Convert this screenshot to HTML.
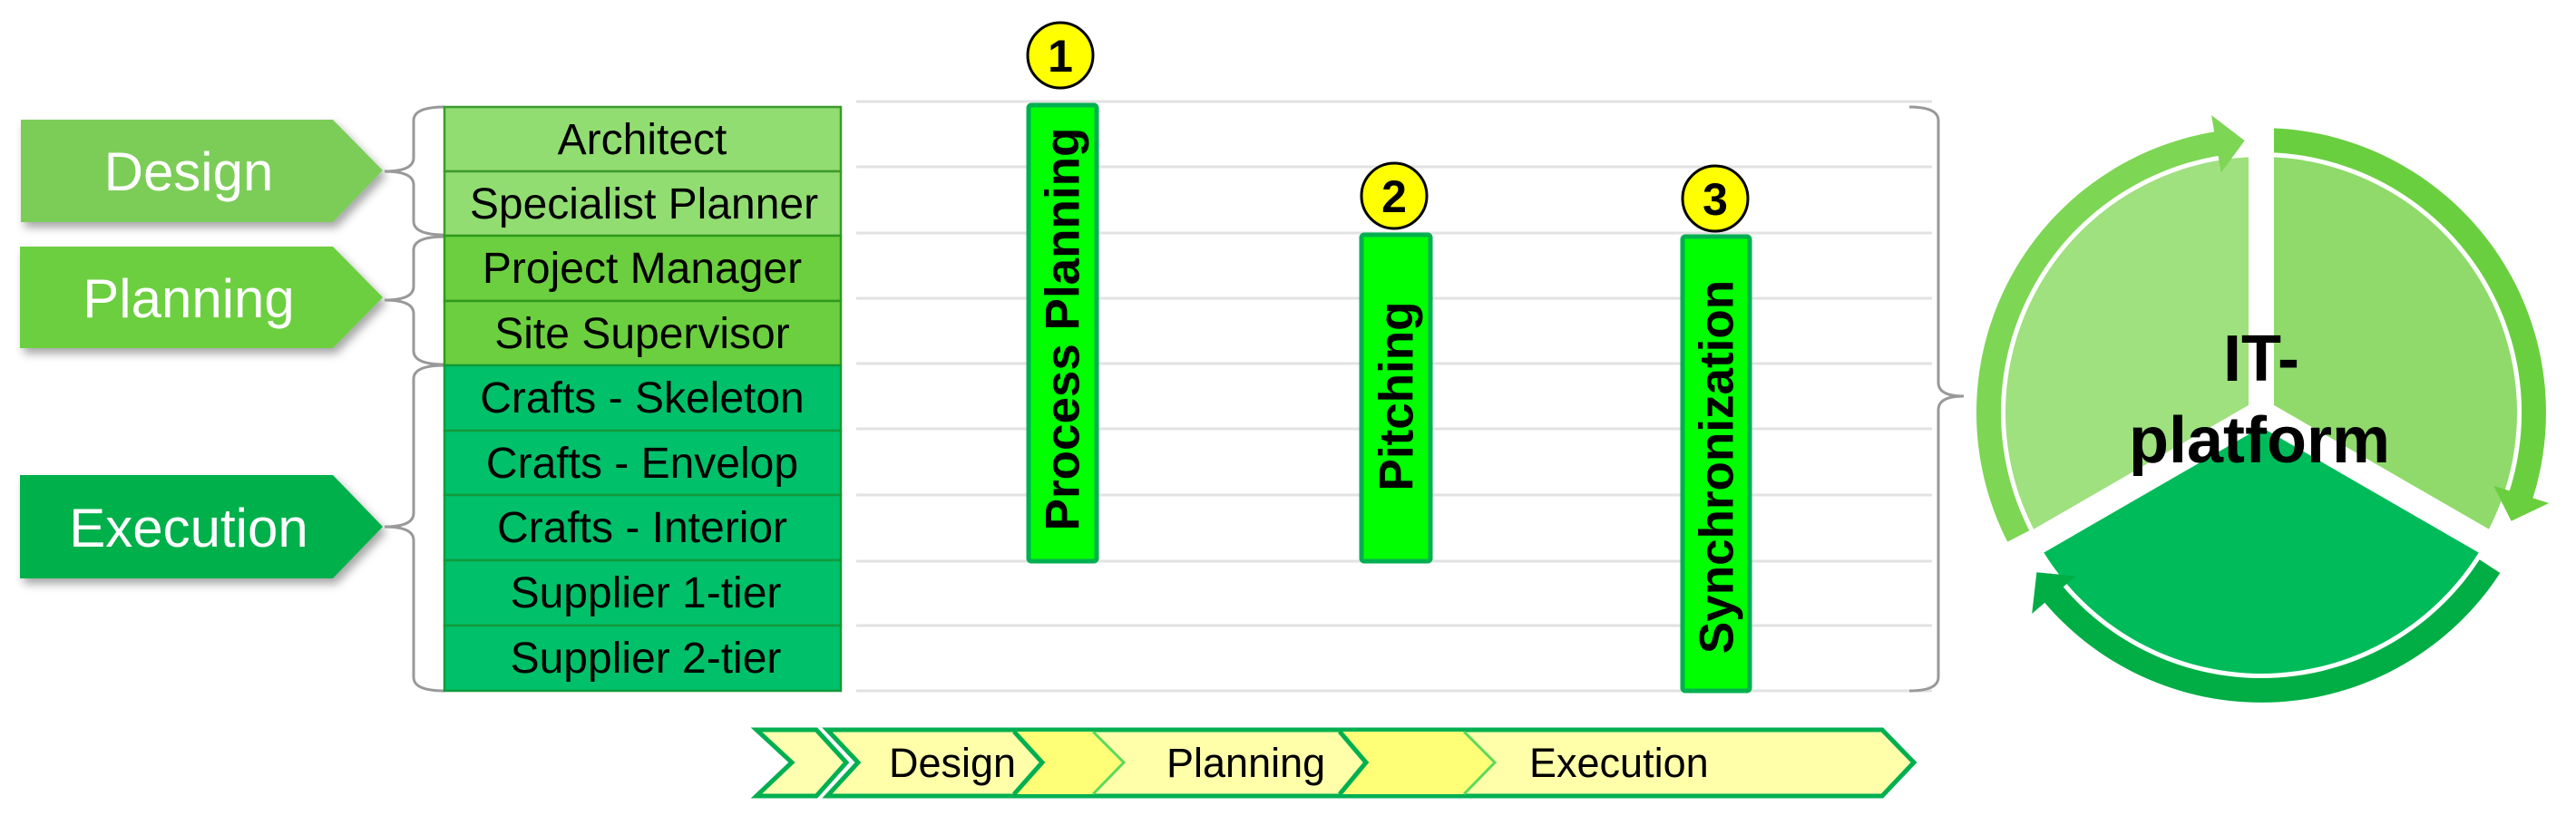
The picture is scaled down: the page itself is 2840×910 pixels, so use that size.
<!DOCTYPE html>
<html><head><meta charset="utf-8"><style>
html,body{margin:0;padding:0;background:#fff;}
svg{display:block;}
text{font-family:"Liberation Sans",Arial,sans-serif;}
</style></head><body>
<svg id="s" width="2840" height="910" viewBox="0 0 2840 910" xmlns="http://www.w3.org/2000/svg">
<defs>
<filter id="sh" x="-10%" y="-10%" width="130%" height="140%"><feDropShadow dx="4" dy="6" stdDeviation="5" flood-color="#000" flood-opacity="0.35"/></filter>
</defs>
<g stroke="#e2e2e2" stroke-width="3">
<line x1="944" y1="112" x2="2130" y2="112"/>
<line x1="944" y1="184" x2="2130" y2="184"/>
<line x1="944" y1="257" x2="2130" y2="257"/>
<line x1="944" y1="329" x2="2130" y2="329"/>
<line x1="944" y1="401" x2="2130" y2="401"/>
<line x1="944" y1="473" x2="2130" y2="473"/>
<line x1="944" y1="546" x2="2130" y2="546"/>
<line x1="944" y1="619" x2="2130" y2="619"/>
<line x1="944" y1="690" x2="2130" y2="690"/>
<line x1="944" y1="762" x2="2130" y2="762"/>
</g>
<g filter="url(#sh)">
<polygon points="23,132 367,132 422,188 367,245 23,245" fill="#7bcd58"/>
<polygon points="22,272 367,272 422,328 367,384 22,384" fill="#6ccf3f"/>
<polygon points="22,524 367,524 422,581 367,638 22,638" fill="#00b04c"/>
</g>
<g fill="#fff" font-size="60" text-anchor="middle">
<text x="208" y="210">Design</text>
<text x="208" y="350">Planning</text>
<text x="208" y="603">Execution</text>
</g>
<g fill="none" stroke="#999" stroke-width="3">
<path d="M490 118 Q456 118 456 133 L456 174 Q456 189 424 189 Q456 189 456 204 L456 244 Q456 259 490 259"/>
<path d="M490 261 Q456 261 456 276 L456 316 Q456 331 424 331 Q456 331 456 346 L456 387 Q456 402 490 402"/>
<path d="M490 403 Q456 403 456 418 L456 566 Q456 581 424 581 Q456 581 456 596 L456 747 Q456 762 490 762"/>
<path d="M2105 118 Q2137 118 2137 133 L2137 422 Q2137 437 2165 437 Q2137 437 2137 452 L2137 747 Q2137 762 2105 762"/>
</g>
<g stroke="#3c9a2c" stroke-width="2.5">
<rect x="490" y="118" width="437" height="71" fill="#92dd72"/>
<rect x="490" y="189" width="437" height="71" fill="#92dd72"/>
<rect x="490" y="260" width="437" height="72" fill="#6ccf3f" stroke="#2f9a1c"/>
<rect x="490" y="332" width="437" height="71" fill="#6ccf3f" stroke="#2f9a1c"/>
<rect x="490" y="403" width="437" height="72" fill="#00c06a" stroke="#129a3a"/>
<rect x="490" y="475" width="437" height="71" fill="#00c06a" stroke="#129a3a"/>
<rect x="490" y="546" width="437" height="72" fill="#00c06a" stroke="#129a3a"/>
<rect x="490" y="618" width="437" height="72" fill="#00c06a" stroke="#129a3a"/>
<rect x="490" y="690" width="437" height="72" fill="#00c06a" stroke="#129a3a"/>
</g>
<g fill="#000" font-size="48" text-anchor="middle">
<text x="708" y="170">Architect</text>
<text x="710" y="241">Specialist Planner</text>
<text x="708" y="312">Project Manager</text>
<text x="708" y="384">Site Supervisor</text>
<text x="708" y="455">Crafts - Skeleton</text>
<text x="708" y="527">Crafts - Envelop</text>
<text x="708" y="598">Crafts - Interior</text>
<text x="712" y="670">Supplier 1-tier</text>
<text x="712" y="742">Supplier 2-tier</text>
</g>
<g fill="#00ff00" stroke="#00b050" stroke-width="5">
<rect x="1134" y="116" width="75" height="503" rx="3"/>
<rect x="1501" y="259" width="76" height="360" rx="3"/>
<rect x="1855" y="261" width="74" height="501" rx="3"/>
</g>
<g font-size="53" font-weight="bold" text-anchor="middle" fill="#000">
<text transform="translate(1171,363) rotate(-90)" dy="0.35em">Process Planning</text>
<text transform="translate(1539,437) rotate(-90)" dy="0.35em">Pitching</text>
<text transform="translate(1892,515) rotate(-90)" dy="0.35em">Synchronization</text>
</g>
<g fill="#ffff00" stroke="#000" stroke-width="3">
<circle cx="1169" cy="61" r="36"/>
<circle cx="1537" cy="216" r="36"/>
<circle cx="1891" cy="219" r="36"/>
</g>
<g font-size="50" font-weight="bold" text-anchor="middle" fill="#000">
<text x="1169" y="79">1</text>
<text x="1537" y="234">2</text>
<text x="1891" y="237">3</text>
</g>
<g stroke="#00b050" stroke-width="5" stroke-linejoin="miter">
<polygon points="834,805 900,805 933,841 900,878 834,878 873,841" fill="#ffffb0"/>
<polygon points="912,805 2075,805 2110,841 2075,878 912,878 946,841" fill="#ffffaa"/>
<polygon points="1118,807 1205,807 1239,841 1205,876 1118,876 1149,841" fill="#ffff77" stroke="none"/>
<polygon points="1477,807 1614,807 1648,841 1614,876 1477,876 1506,841" fill="#ffff77" stroke="none"/>
<polyline points="1118,807 1149,841 1118,876" fill="none"/>
<polyline points="1477,807 1506,841 1477,876" fill="none"/>
<polyline points="1205,807 1239,841 1205,876" fill="none" stroke="#5bd95b" stroke-width="3"/>
<polyline points="1614,807 1648,841 1614,876" fill="none" stroke="#5bd95b" stroke-width="3"/>
</g>
<g font-size="45" fill="#000">
<text x="980" y="857">Design</text>
<text x="1286" y="857">Planning</text>
<text x="1686" y="857">Execution</text>
</g>
<g id="cyc"></g>
<g font-size="72" font-weight="bold" text-anchor="middle" fill="#000">
<text x="2493" y="420">IT-</text>
<text x="2491" y="510">platform</text>
</g>
</svg>
<script>
(function(){
var C=[2493,455],NS="http://www.w3.org/2000/svg",g=document.getElementById("cyc");
function P(a,r,dy){a=a*Math.PI/180;return (C[0]+r*Math.cos(a)).toFixed(1)+" "+(C[1]+(dy||0)+r*Math.sin(a)).toFixed(1);}
function add(d,fill){var p=document.createElementNS(NS,"path");p.setAttribute("d",d);p.setAttribute("fill",fill);g.appendChild(p);}
function sector(a1,a2,fill,dy){add("M"+C[0]+" "+(C[1]+dy)+" L"+P(a1,282,dy)+" A282 282 0 0 1 "+P(a2,282,dy)+" Z",fill);}
function ring(a1,a2,fill,dy,arrow){
 var Ro=314,Ri=287,Rm=300.5;
 add("M"+P(a1,Ro,dy)+" A"+Ro+" "+Ro+" 0 0 1 "+P(a2,Ro,dy)+" L"+P(a2,Ri,dy)+" A"+Ri+" "+Ri+" 0 0 0 "+P(a1,Ri,dy)+" Z",fill);
 if(arrow){add("M"+P(a2-0.5,Rm+32,dy)+" L"+P(a2+5.5,Rm,dy)+" L"+P(a2-0.5,Rm-32,dy)+" Z",fill);}
}
sector(150,270,"#9fe07f",0);
sector(270,390,"#8fda6b",0);
sector(30,150,"#00bb5a",6);
ring(153,261,"#7dd654",0,true);
ring(272,378,"#6acf3f",0,true);
ring(33,140,"#00ae45",6,true);
[270,30,150].forEach(function(a){var l=document.createElementNS(NS,"line");l.setAttribute("x1",C[0]);l.setAttribute("y1",C[1]);var e=P(a,345).split(" ");l.setAttribute("x2",e[0]);l.setAttribute("y2",e[1]);l.setAttribute("stroke","#fff");l.setAttribute("stroke-width","28");g.appendChild(l);});
})();
</script>
</body></html>
